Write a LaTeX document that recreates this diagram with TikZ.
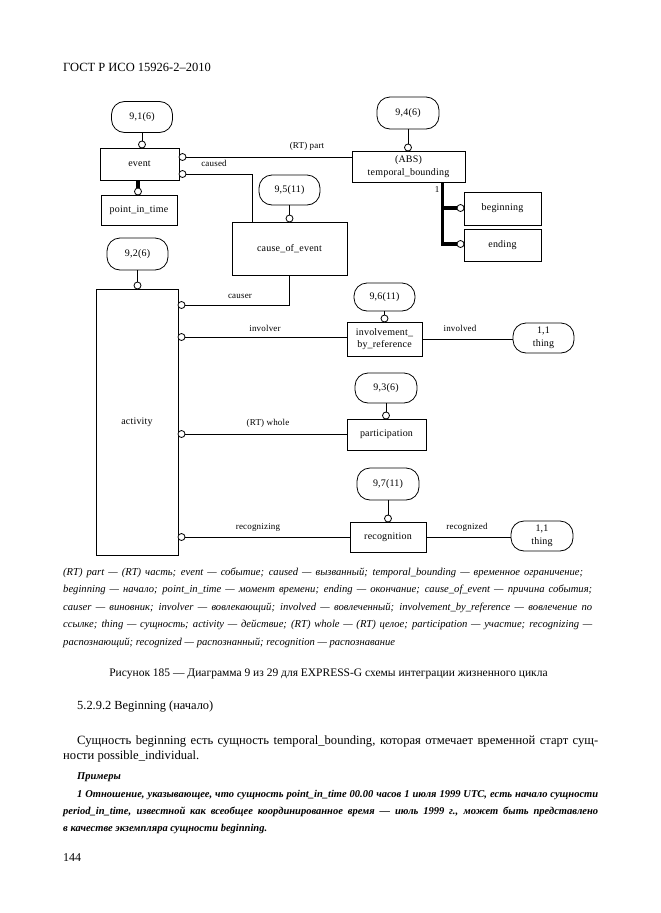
\documentclass[tikz,border=0pt]{standalone}
\usepackage{fontspec}
\setmainfont{Liberation Serif}
\newfontfamily\dgfont[LetterSpace=2]{Liberation Serif}
\usetikzlibrary{calc}
\begin{document}
\begin{tikzpicture}[x=1pt,y=-1pt,
 ent/.style={draw,line width=0.8pt,inner sep=0pt,align=center,font=\dgfont\fontsize{10}{12.5}\selectfont},
 pgref/.style={ent,rounded corners=13pt},
 oc/.style={draw,circle,fill=white,line width=0.8pt,inner sep=0pt,minimum size=7pt},
 lbl/.style={font=\dgfont\fontsize{9}{10}\selectfont,inner sep=0pt},
 ln/.style={line width=0.8pt},
 inh/.style={line width=3.5pt},
 txt/.style={inner sep=0pt,anchor=base west}]
\fill[white] (0,0) rectangle (661,913);
\useasboundingbox (0,0) rectangle (661,913);

\node[txt,font=\fontsize{12.5}{14}\selectfont] (hdr) at (63,71) {ГОСТ Р ИСО 15926-2–2010};

% entities and page references
\node[pgref,minimum width=61pt,minimum height=31pt] (pg91) at (142,117) {9,1(6)};
\node[ent,minimum width=79pt,minimum height=32pt] (event) at (139.5,164) {event};
\node[ent,minimum width=76pt,minimum height=30pt] (pit) at (139,210) {point\_in\_time};
\node[pgref,minimum width=62pt,minimum height=32pt] (pg94) at (408,113) {9,4(6)};
\node[ent,minimum width=113pt,minimum height=31pt] (tb) at (408.5,166.5) {(ABS)\\temporal\_bounding};
\node[ent,minimum width=77pt,minimum height=33pt] (beg) at (502.5,208.5) {beginning};
\node[ent,minimum width=77pt,minimum height=32pt] (end) at (502.5,245) {ending};
\node[pgref,minimum width=61pt,minimum height=30pt] (pg95) at (289.5,190) {9,5(11)};
\node[ent,minimum width=115pt,minimum height=53pt] (coe) at (289.5,248.5) {cause\_of\_event};
\node[pgref,minimum width=61pt,minimum height=32pt] (pg92) at (137.5,254) {9,2(6)};
\node[ent,minimum width=82pt,minimum height=266pt] (act) at (137,422.5) {activity};
\node[pgref,minimum width=61pt,minimum height=28pt] (pg96) at (384.5,297) {9,6(11)};
\node[ent,minimum width=75pt,minimum height=34pt] (ibr) at (384.5,339) {involvement\_\\by\_reference};
\node[pgref,minimum width=61pt,minimum height=30pt] (th1) at (543.5,338) {1,1\\thing};
\node[pgref,minimum width=62pt,minimum height=30pt] (pg93) at (386,388) {9,3(6)};
\node[ent,minimum width=79pt,minimum height=31pt] (par) at (386.5,434.5) {participation};
\node[pgref,minimum width=62pt,minimum height=32pt] (pg97) at (388,484) {9,7(11)};
\node[ent,minimum width=76pt,minimum height=30pt] (rec) at (388,537) {recognition};
\node[pgref,minimum width=62pt,minimum height=30pt] (th2) at (542,536) {1,1\\thing};

% circles
\node[oc] (c91) at (142,144.5) {};
\node[oc] (cpart) at (182.5,157) {};
\node[oc] (ccaused) at (182.5,174) {};
\node[oc] (cpit) at (138,191.5) {};
\node[oc] (c94) at (408,147.5) {};
\node[oc] (cbeg) at (460.5,208) {};
\node[oc] (cend) at (460.5,244) {};
\node[oc] (c95) at (289.5,218.5) {};
\node[oc] (c92) at (137.5,285.5) {};
\node[oc] (ccauser) at (181.5,305) {};
\node[oc] (cinv) at (181.5,337) {};
\node[oc] (c96) at (384.5,318.5) {};
\node[oc] (c93) at (386,415.5) {};
\node[oc] (cwhole) at (181.5,434) {};
\node[oc] (c97) at (388,518.5) {};
\node[oc] (crecog) at (181.5,537) {};
\coordinate (tbj) at ($(tb.south west)+(91,0)$);
\coordinate (coej) at ($(coe.north west)+(21,0)$);

% connectors
\draw[ln] (pg91) -- (c91);
\draw[ln] (pg94) -- (c94);
\draw[ln] (pg95) -- (c95);
\draw[ln] (pg92) -- (c92);
\draw[ln] (pg96) -- (c96);
\draw[ln] (pg93) -- (c93);
\draw[ln] (pg97) -- (c97);
\draw[ln] (cpart.east) -- (cpart.east -| tb.west);
\draw[ln] (ccaused.east) -| (coej);
\draw[inh] (event.south -| cpit) -- (cpit.north);
\draw[inh] (tbj) |- (cend.west);
\draw[inh] (tbj |- cbeg) -- (cbeg.west);
\draw[ln] (ccauser.east) -| (coe.south);
\draw[ln] (cinv.east) -- (cinv.east -| ibr.west);
\draw[ln] (ibr.east) -- (ibr.east -| th1.west);
\draw[ln] (cwhole.east) -- (cwhole.east -| par.west);
\draw[ln] (crecog.east) -- (crecog.east -| rec.west);
\draw[ln] (rec.east) -- (rec.east -| th2.west);

% connector labels
\node[lbl] (lpart) at (307,146) {(RT) part};
\node[lbl] (lcaused) at (214,163) {caused};
\node[lbl] (lone) at (437,190) {1};
\node[lbl] (lcauser) at (240,296) {causer};
\node[lbl] (linv) at (265,328) {involver};
\node[lbl] (linvd) at (460,328) {involved};
\node[lbl] (lwhole) at (268,423) {(RT) whole};
\node[lbl] (lrecog) at (258,527) {recognizing};
\node[lbl] (lrecd) at (467,527) {recognized};

% legend
\begin{scope}[every node/.style={txt,font=\itshape\fontsize{10.6}{12}\selectfont}]
\node (lg1) at (63,575) {\makebox[520pt][s]{(RT) part — (RT) часть; event — событие; caused — вызванный; temporal\_bounding — временное ограничение;}};
\node (lg2) at (63,592.5) {\makebox[529pt][s]{beginning — начало; point\_in\_time — момент времени; ending — окончание; cause\_of\_event — причина события;}};
\node (lg3) at (63,610) {\makebox[529pt][s]{causer — виновник; involver — вовлекающий; involved — вовлеченный; involvement\_by\_reference — вовлечение по}};
\node (lg4) at (63,627.5) {\makebox[529pt][s]{ссылке; thing — сущность; activity — действие; (RT) whole — (RT) целое; participation — участие; recognizing —}};
\node (lg5) at (63,645) {распознающий; recognized — распознанный; recognition — распознавание};
\end{scope}

\node[inner sep=0pt,anchor=base,font=\fontsize{11.5}{13}\selectfont] (cap) at (328.5,676) {Рисунок 185 — Диаграмма 9 из 29 для EXPRESS-G схемы интеграции жизненного цикла};

\node[txt,font=\fontsize{12.4}{14}\selectfont] (sec) at (77,709) {5.2.9.2 Beginning (начало)};
\node[txt,font=\fontsize{12.6}{14}\selectfont] (b1) at (77,744) {\makebox[521pt][s]{Сущность beginning есть сущность temporal\_bounding, которая отмечает временной старт сущ-}};
\node[txt,font=\fontsize{12.6}{14}\selectfont] (b2) at (63,759) {ности possible\_individual.};
\node[txt,font=\bfseries\itshape\fontsize{10.5}{12}\selectfont] (ex) at (77,779) {Примеры};
\node[txt,font=\bfseries\itshape\fontsize{10.5}{12}\selectfont] (e1) at (77,797) {\makebox[521pt][s]{1 Отношение, указывающее, что сущность point\_in\_time 00.00 часов 1 июля 1999 UTC, есть начало сущности}};
\node[txt,font=\bfseries\itshape\fontsize{10.5}{12}\selectfont] (e2) at (63,814) {\makebox[535pt][s]{period\_in\_time, известной как всеобщее координированное время — июль 1999 г., может быть представлено}};
\node[txt,font=\bfseries\itshape\fontsize{10.5}{12}\selectfont] (e3) at (63,831) {в качестве экземпляра сущности beginning.};
\node[txt,font=\fontsize{12}{13}\selectfont] (pnum) at (63,861) {144};
\end{tikzpicture}
\end{document}
